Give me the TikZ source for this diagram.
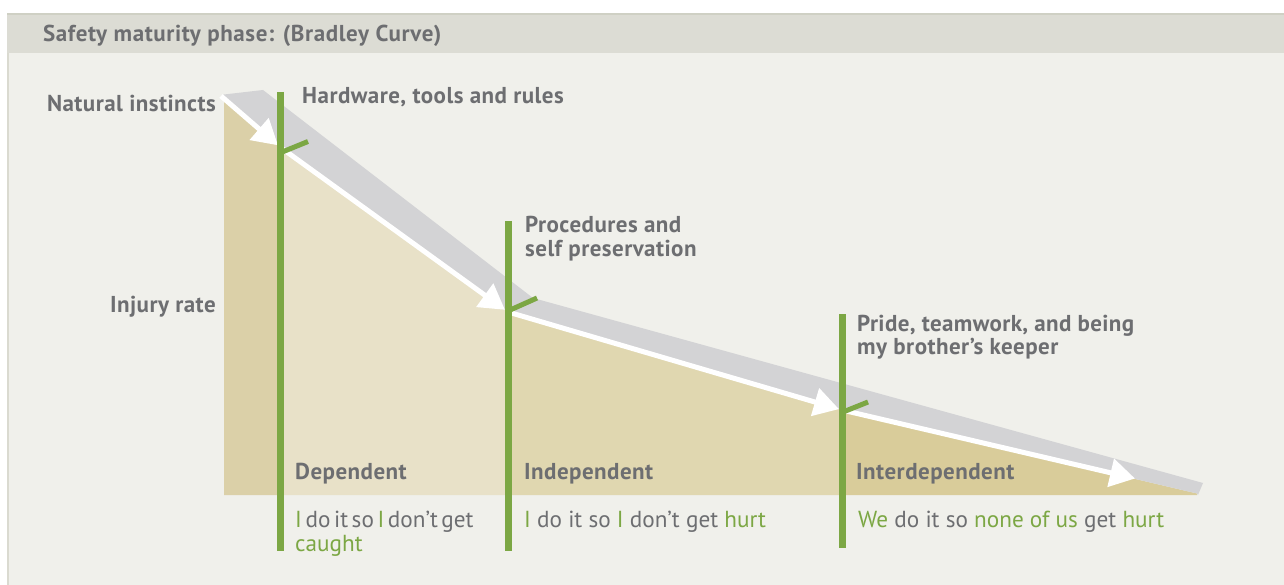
\documentclass[tikz,border=0pt]{standalone}
\usepackage{fontspec}
\setmainfont{PT Sans}
\usetikzlibrary{arrows.meta}
\definecolor{hdrbg}{HTML}{DCDCD4}
\definecolor{hdrline}{HTML}{CFD0C4}
\definecolor{bodybg}{HTML}{F0F0EB}
\definecolor{edgecol}{HTML}{DADAD0}
\definecolor{tanA}{HTML}{DBD0A8}
\definecolor{tanB}{HTML}{E8E1C8}
\definecolor{tanC}{HTML}{E0D7B0}
\definecolor{tanD}{HTML}{D9CC9A}
\definecolor{bandgray}{HTML}{D3D3D5}
\definecolor{txtgray}{HTML}{6D6E71}
\definecolor{grn}{HTML}{7CA744}
\tikzset{
  lbl/.style={font=\fontsize{23}{26}\selectfont\bfseries\addfontfeature{LetterSpace=2}, text=txtgray, inner sep=0pt, align=left},
  phrase/.style={font=\fontsize{23.2}{26}\selectfont, text=txtgray, inner sep=0pt, align=left},
  warrow/.style={draw=white, line width=5pt, -{Triangle[length=25pt,width=28pt]}},
  gline/.style={draw=grn, line width=6.5pt},
  gtick/.style={draw=grn, line width=5pt},
}
\newcommand{\gr}[1]{\textcolor{grn}{#1}}
\begin{document}
\begin{tikzpicture}[x=1pt,y=-1pt]
\useasboundingbox (0,0) rectangle (1284,585);
\fill[white] (0,0) rectangle (1284,585);
% panel
\fill[bodybg] (7,53) rectangle (1284,585);
\fill[hdrbg] (7,13) rectangle (1284,53);
\fill[hdrline] (7,13) rectangle (1284,15.5);
\fill[edgecol] (7,53) rectangle (9,585);
\node[lbl, anchor=base west, font=\fontsize{23}{26}\selectfont\bfseries\addfontfeature{LetterSpace=2.6}] (title) at (43,42) {Safety maturity phase: (Bradley Curve)};
% curve points
\coordinate (p0) at (221,96);
\coordinate (p1) at (280,147);
\coordinate (p2) at (508,312);
\coordinate (p3) at (842,410);
\coordinate (p4) at (1197,493.5);
\coordinate (t1) at (278,145.3);
\coordinate (t2) at (505,309.8);
\coordinate (t3) at (839,409.1);
\coordinate (t4) at (1135,478.5);
% tan areas
\fill[tanA] (224,98.6) -- (p1) -- (280,495) -- (224,495) -- cycle;
\fill[tanB] (p1) -- (p2) -- (508,495) -- (280,495) -- cycle;
\fill[tanC] (p2) -- (p3) -- (842,495) -- (508,495) -- cycle;
\fill[tanD] (p3) -- (p4) -- (1197,495) -- (842,495) -- cycle;
% gray band
\fill[bandgray] (224,94.5) -- (263,90) -- (533,298) -- (1203,483) -- (1198,495) -- (p4) -- (p3) -- (p2) -- (p1) -- (p0) -- cycle;
% white arrows
\draw[warrow] (p0) -- (t1);
\draw[warrow] (p1) -- (t2);
\draw[warrow] (p2) -- (t3);
\draw[warrow] (p3) -- (t4);
% green phase lines
\coordinate (g1t) at (280.5,92);  \coordinate (g1b) at (280.5,551);
\coordinate (g2t) at (508.5,221); \coordinate (g2b) at (508.5,551);
\coordinate (g3t) at (842.5,314); \coordinate (g3b) at (842.5,548);
\draw[gline] (g1t) -- (g1b);
\draw[gline] (g2t) -- (g2b);
\draw[gline] (g3t) -- (g3b);
\coordinate (k1a) at (281,152.5); \coordinate (k1b) at (308,141.5);
\coordinate (k2a) at (509,310.5); \coordinate (k2b) at (537,298);
\coordinate (k3a) at (843,412); \coordinate (k3b) at (868,402);
\draw[gtick] (k1a) -- (k1b);
\draw[gtick] (k2a) -- (k2b);
\draw[gtick] (k3a) -- (k3b);
% axis labels
\node[lbl, anchor=base east] (nat) at (216,112) {Natural instincts};
\node[lbl, anchor=base east] (inj) at (216,312) {Injury rate};
% phase headings
\node[lbl, anchor=base west] (hw) at (302,104) {Hardware, tools and rules};
\node[lbl, anchor=base west] (proc) at (525,233) {Procedures and};
\node[lbl, anchor=base west] (proc2) at (525,257) {self preservation};
\node[lbl, anchor=base west, font=\fontsize{23}{26}\selectfont\bfseries\addfontfeature{LetterSpace=1.6}] (pride) at (857,331) {Pride, teamwork, and being};
\node[lbl, anchor=base west] (pride2) at (857,354) {my brother’s keeper};
% phase names
\node[lbl, anchor=base west] (dep) at (295,479) {Dependent};
\node[lbl, anchor=base west] (ind) at (524,479) {Independent};
\node[lbl, anchor=base west] (inter) at (856,479) {Interdependent};
% phrases
\node[phrase, anchor=base west] (ph1) at (295,527) {\spaceskip=3.6pt\relax\gr{I} do it so \gr{I} don’t get};
\node[phrase, anchor=base west] (ph1b) at (295,551) {\gr{caught}};
\node[phrase, anchor=base west] (ph2) at (524,527) {\gr{I} do it so \gr{I} don’t get \gr{hurt}};
\node[phrase, anchor=base west] (ph3) at (858,527) {\gr{We} do it so \gr{none of us} get \gr{hurt}};
\end{tikzpicture}
\end{document}
